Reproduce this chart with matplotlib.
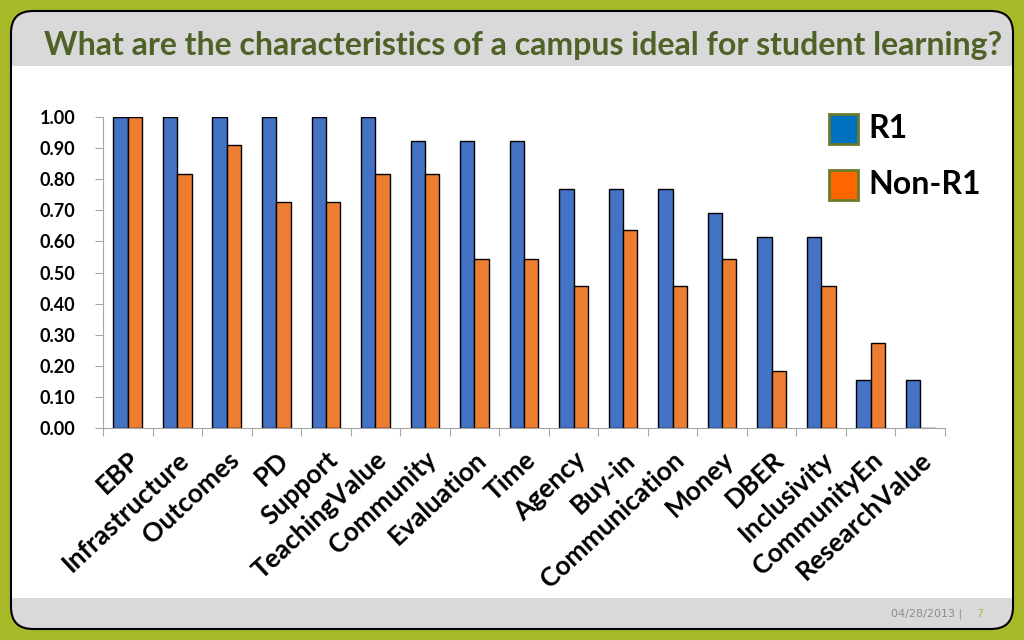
import matplotlib
matplotlib.use("Agg")
import matplotlib.pyplot as plt
from matplotlib.patches import FancyBboxPatch, Rectangle
import numpy as np

categories = ["EBP", "Infrastructure", "Outcomes", "PD", "Support", "TeachingValue",
              "Community", "Evaluation", "Time", "Agency", "Buy-in", "Communication",
              "Money", "DBER", "Inclusivity", "CommunityEn", "ResearchValue"]
r1 = [1.0, 1.0, 1.0, 1.0, 1.0, 1.0, 0.923, 0.923, 0.923, 0.769, 0.769, 0.769,
      0.692, 0.615, 0.615, 0.154, 0.154]
non_r1 = [1.0, 0.818, 0.909, 0.727, 0.727, 0.818, 0.818, 0.545, 0.545, 0.455, 0.636,
          0.455, 0.545, 0.182, 0.455, 0.273, 0.0]
y_ticks = [0.0, 0.1, 0.2, 0.3, 0.4, 0.5, 0.6, 0.7, 0.8, 0.9, 1.0]

W, H = 1024, 640
fig = plt.figure(figsize=(W / 100, H / 100), dpi=100)
fig.patch.set_facecolor("#A7B829")

# slide background
bg = fig.add_axes([0, 0, 1, 1])
bg.set_xlim(0, W)
bg.set_ylim(H, 0)
bg.axis("off")
bg.add_patch(FancyBboxPatch((11, 11), W - 22, H - 22, boxstyle="round,pad=0,rounding_size=22",
                            fc="#D9D9D9", ec="black", lw=1.5))
bg.add_patch(Rectangle((12, 66), W - 24, 532, fc="white", ec="none"))
bg.text(44, 45, "What are the characteristics of a campus ideal for student learning?",
        ha="left", va="center", fontsize=23, fontweight="bold", color="#4F6228",
        family="Lato")
bg.text(962, 614, "04/28/2013 |", ha="right", va="center", fontsize=8, color="#8C8C8C")
bg.text(980, 614, "7", ha="center", va="center", fontsize=8, color="#9BBB59")

ax = fig.add_axes([103 / W, 1 - 428 / H, (945 - 103) / W, (428 - 117) / H])
ax.set_facecolor("none")
x = np.arange(len(categories))
w = 0.29
ax.bar(x - w / 2, r1, w, color="#4472C4", edgecolor="black", lw=1)
ax.bar(x + w / 2, non_r1, w, color="#ED7D31", edgecolor="black", lw=1)

ax.set_xlim(-0.5, len(categories) - 0.5)
ax.set_ylim(0, 1.0)
ax.set_yticks(y_ticks)
ax.set_yticklabels([f"{v:.2f}" for v in y_ticks], fontsize=13, fontweight="bold", family="Lato")
ax.set_xticks(np.arange(len(categories) + 1) - 0.5)
ax.set_xticklabels([])
ax.set_xticks(x, minor=True)
ax.set_xticklabels(categories, minor=True, rotation=43, ha="right", va="top",
                   rotation_mode="anchor", fontsize=19, fontweight="bold", family="Lato")
ax.tick_params(axis="x", which="minor", length=0, pad=14)
ax.tick_params(axis="x", which="major", length=6, color="#A6A6A6")
ax.tick_params(axis="y", length=6, color="#A6A6A6", pad=14)
for s in ["top", "right"]:
    ax.spines[s].set_visible(False)
ax.spines["left"].set_color("#A6A6A6")
ax.spines["bottom"].set_color("#A6A6A6")

# legend on top
lg = fig.add_axes([0, 0, 1, 1], zorder=5)
lg.set_xlim(0, W)
lg.set_ylim(H, 0)
lg.axis("off")
lg.add_patch(Rectangle((829, 114), 29, 30, fc="#0070C0", ec="#6B7A2A", lw=2))
lg.add_patch(Rectangle((829, 170), 29, 30, fc="#FF6600", ec="#6B7A2A", lw=2))
lg.text(868, 129, "R1", ha="left", va="center", fontsize=23, fontweight="bold", family="Lato")
lg.text(868, 185, "Non-R1", ha="left", va="center", fontsize=23, fontweight="bold", family="Lato")

fig.savefig("out.png", dpi=100, facecolor=fig.get_facecolor())
